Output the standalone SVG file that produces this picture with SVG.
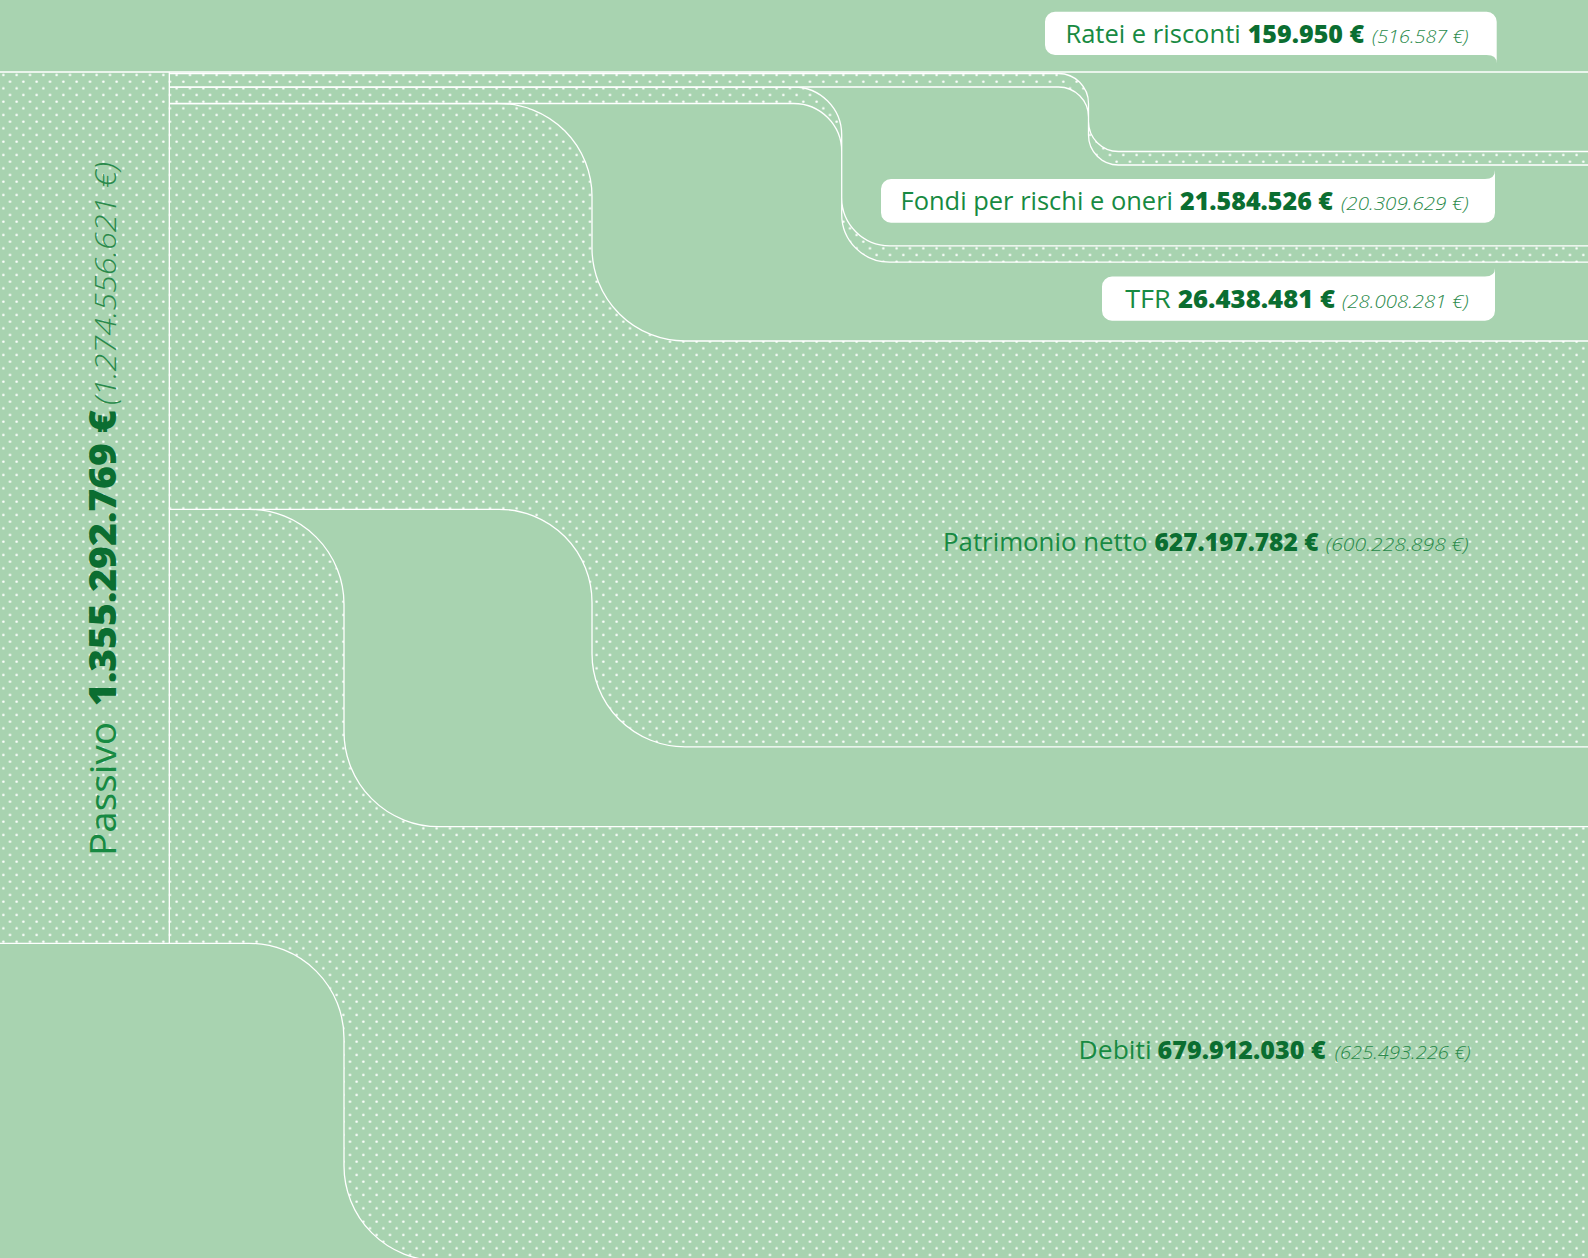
<svg xmlns="http://www.w3.org/2000/svg" width="1588" height="1258" viewBox="0 0 1588 1258">
<defs>
<pattern id="dots" patternUnits="userSpaceOnUse" width="13.333" height="13.333">
<rect width="13.333" height="13.333" fill="#a8d3b0"/>
<circle cx="3.333" cy="8.333" r="1.25" fill="#ffffff"/>
<circle cx="10" cy="1.667" r="1.25" fill="#ffffff"/>
</pattern>
</defs>
<style>
.band{fill:url(#dots);stroke:#ffffff;stroke-width:1.3;stroke-linejoin:round}
.line{fill:none;stroke:#ffffff;stroke-width:1.3}
.bubble{fill:#ffffff}
.lbl{font-family:"Open Sans","Noto Sans","Liberation Sans",sans-serif;font-size:25px;fill:#178a42}
.reg{font-weight:400}
.bold{font-weight:800;fill:#0b6e31}
.par{font-style:italic;font-weight:300;font-size:19px;fill:#2a8a4b}
.vlbl{font-size:37px}
.vpar{font-size:30px}
</style>
<rect x="0" y="0" width="1588" height="1258" fill="#a8d3b0"/>

<g id="connectors">
<path id="band-debiti" class="band" d="M169.3 509.3 H249 A95 95 0 0 1 344 604.3 V731.7 A95 95 0 0 0 439 826.7 H1590 V1260.7 H439 A95 95 0 0 1 344 1165.7 V1038.3 A95 95 0 0 0 249 943.3 H169.3 Z"/>
<path id="band-patrimonio" class="band" d="M169.3 103.5 H499 A93 93 0 0 1 592 196.5 V248 A93 93 0 0 0 685 341 H1590 V746.8 H685 A93 93 0 0 1 592 653.8 V602.3 A93 93 0 0 0 499 509.3 H169.3 Z"/>
<path id="band-tfr" class="band" d="M169.3 87 H793.7 A48 48 0 0 1 841.7 135 V197.8 A48 48 0 0 0 889.7 245.8 H1590 V262.2 H889.7 A48 48 0 0 1 841.7 214.2 V151.5 A48 48 0 0 0 793.7 103.5 H169.3 Z"/>
<path id="band-fondi" class="band" d="M169.3 73.5 H1058.5 A30 30 0 0 1 1088.5 103.5 V121.5 A30 30 0 0 0 1118.5 151.5 H1590 V165 H1118.5 A30 30 0 0 1 1088.5 135 V117 A30 30 0 0 0 1058.5 87 H169.3 Z"/>
<path id="band-ratei" class="line" d="M169.3 72 H1590"/>
</g>

<g id="passivo">
<rect x="-2" y="72" width="171.3" height="871.3" class="band"/>
<text class="lbl vlbl" transform="translate(115.5 856) rotate(-90)"><tspan class="reg" x="0" y="0" textLength="134" lengthAdjust="spacingAndGlyphs">Passivo</tspan> <tspan class="bold" x="150" y="0" textLength="296" lengthAdjust="spacingAndGlyphs">1.355.292.769 €</tspan> <tspan class="par vpar" x="451" y="0" textLength="243" lengthAdjust="spacingAndGlyphs">(1.274.556.621 €)</tspan></text>
</g>

<g id="ratei">
<path class="bubble" d="M1055 11.7 H1486.7 A10 10 0 0 1 1496.7 21.7 V63.3 Q1496.7 55 1486.7 55 H1055 A10 10 0 0 1 1045 45 V21.7 A10 10 0 0 1 1055 11.7 Z"/>
<text class="lbl" y="43"><tspan class="reg" x="1065.4" textLength="175.3" lengthAdjust="spacingAndGlyphs">Ratei e risconti</tspan> <tspan class="bold" x="1247.7" textLength="116.5" lengthAdjust="spacingAndGlyphs">159.950 €</tspan> <tspan class="par" x="1372" textLength="96.5" lengthAdjust="spacingAndGlyphs">(516.587 €)</tspan></text>
</g>

<g id="fondi">
<path class="bubble" d="M891 179 H1485 Q1495 179 1495 170 V212.7 A10 10 0 0 1 1485 222.7 H891 A10 10 0 0 1 881 212.7 V189 A10 10 0 0 1 891 179 Z"/>
<text class="lbl" y="209.5"><tspan class="reg" x="900.5" textLength="272.5" lengthAdjust="spacingAndGlyphs">Fondi per rischi e oneri</tspan> <tspan class="bold" x="1180" textLength="153" lengthAdjust="spacingAndGlyphs">21.584.526 €</tspan> <tspan class="par" x="1341" textLength="127.5" lengthAdjust="spacingAndGlyphs">(20.309.629 €)</tspan></text>
</g>

<g id="tfr">
<path class="bubble" d="M1112 276.5 H1485 Q1495 276.5 1495 268.3 V310.7 A10 10 0 0 1 1485 320.7 H1112 A10 10 0 0 1 1102 310.7 V286.5 A10 10 0 0 1 1112 276.5 Z"/>
<text class="lbl" y="307.5"><tspan class="reg" x="1125.2" textLength="45.6" lengthAdjust="spacingAndGlyphs">TFR</tspan> <tspan class="bold" x="1178" textLength="157" lengthAdjust="spacingAndGlyphs">26.438.481 €</tspan> <tspan class="par" x="1342" textLength="126.5" lengthAdjust="spacingAndGlyphs">(28.008.281 €)</tspan></text>
</g>

<g id="patrimonio">
<text class="lbl" y="551"><tspan class="reg" x="943" textLength="204.5" lengthAdjust="spacingAndGlyphs">Patrimonio netto</tspan> <tspan class="bold" x="1154.5" textLength="164" lengthAdjust="spacingAndGlyphs">627.197.782 €</tspan> <tspan class="par" x="1325.7" textLength="142.8" lengthAdjust="spacingAndGlyphs">(600.228.898 €)</tspan></text>
</g>

<g id="debiti">
<text class="lbl" y="1059"><tspan class="reg" x="1078.6" textLength="73" lengthAdjust="spacingAndGlyphs">Debiti</tspan> <tspan class="bold" x="1157.6" textLength="168" lengthAdjust="spacingAndGlyphs">679.912.030 €</tspan> <tspan class="par" x="1334.8" textLength="135.7" lengthAdjust="spacingAndGlyphs">(625.493.226 €)</tspan></text>
</g>
</svg>
